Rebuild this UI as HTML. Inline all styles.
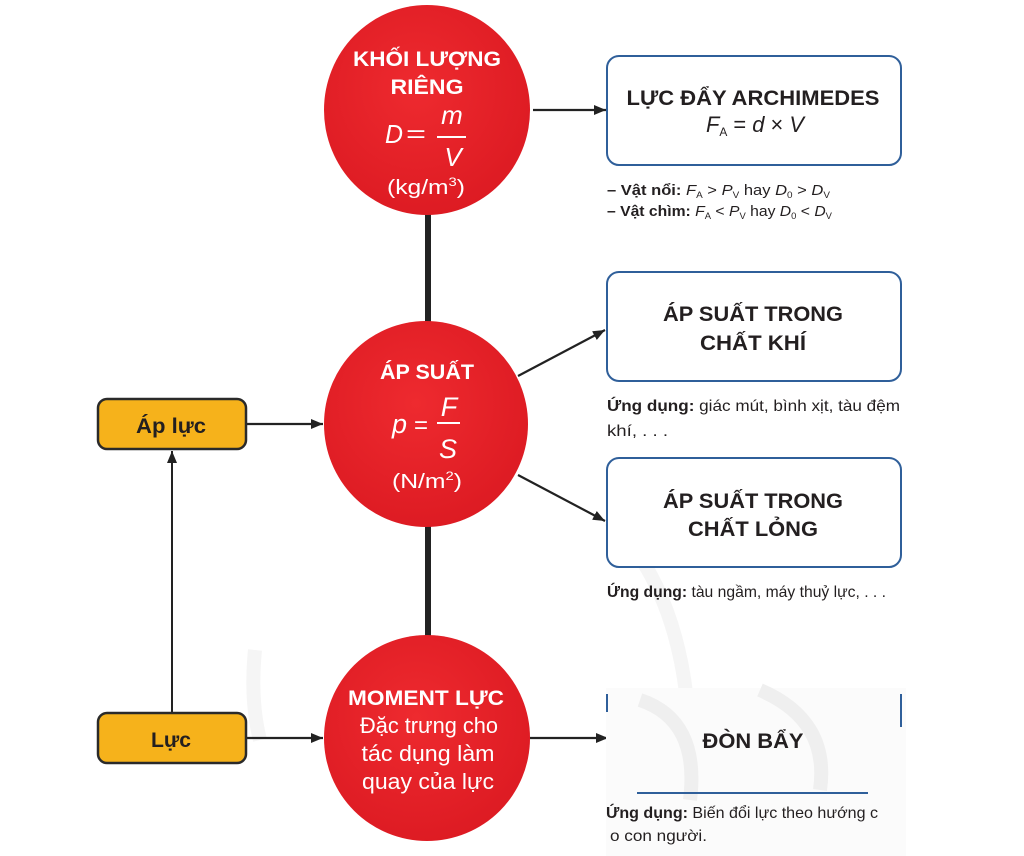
<!DOCTYPE html>
<html>
<head>
<meta charset="utf-8">
<style>
  html,body{margin:0;padding:0;background:#fff;}
  svg{display:block;}
  .c{font-family:"Liberation Sans Narrow","Liberation Sans",sans-serif;}
</style>
</head>
<body>
<svg width="1024" height="856" viewBox="0 0 1024 856" xmlns="http://www.w3.org/2000/svg" class="c">
  <defs>
    <marker id="ah" viewBox="0 0 12 10" refX="12" refY="5" markerWidth="12" markerHeight="10" markerUnits="userSpaceOnUse" orient="auto">
      <path d="M0,0 L12,5 L0,10 Z" fill="#222"/>
    </marker>
    <radialGradient id="rg" cx="45%" cy="40%" r="65%">
      <stop offset="0" stop-color="#ee2a2f"/>
      <stop offset="1" stop-color="#dc1a22"/>
    </radialGradient>
  </defs>

  <!-- faint watermark arcs -->
  <g fill="none" stroke="#f5f5f5" stroke-width="14">
    <path d="M610,520 Q690,600 690,760"/>
    <path d="M760,700 Q840,760 860,856"/>
    <path d="M255,650 Q250,700 260,740"/>
  </g>

  <!-- vertical thick connectors -->
  <rect x="425" y="210" width="6" height="115" fill="#222"/>
  <rect x="425" y="524" width="6" height="114" fill="#222"/>

  <!-- arrows -->
  <line x1="533" y1="110" x2="606" y2="110" stroke="#222" stroke-width="2.2" marker-end="url(#ah)"/>
  <line x1="518" y1="376" x2="605" y2="330" stroke="#222" stroke-width="2.2" marker-end="url(#ah)"/>
  <line x1="518" y1="475" x2="605" y2="521" stroke="#222" stroke-width="2.2" marker-end="url(#ah)"/>
  <line x1="247" y1="424" x2="323" y2="424" stroke="#222" stroke-width="2.2" marker-end="url(#ah)"/>
  <line x1="247" y1="738" x2="323" y2="738" stroke="#222" stroke-width="2.2" marker-end="url(#ah)"/>
  <line x1="530" y1="738" x2="608" y2="738" stroke="#222" stroke-width="2.2" marker-end="url(#ah)"/>
  <line x1="172" y1="712" x2="172" y2="451" stroke="#222" stroke-width="2" marker-end="url(#ah)"/>

  <!-- circles -->
  <ellipse cx="427" cy="110" rx="103" ry="105" fill="url(#rg)"/>
  <ellipse cx="426" cy="424" rx="102" ry="103" fill="url(#rg)"/>
  <ellipse cx="427" cy="738" rx="103" ry="103" fill="url(#rg)"/>

  <!-- circle 1 text -->
  <g fill="#fff">
    <text x="427" y="66" font-size="21" font-weight="bold" text-anchor="middle" textLength="148" lengthAdjust="spacingAndGlyphs">KHỐI LƯỢNG</text>
    <text x="427" y="94" font-size="21" font-weight="bold" text-anchor="middle" textLength="73" lengthAdjust="spacingAndGlyphs">RIÊNG</text>
    <text x="385" y="143" font-size="26" font-style="italic" textLength="18" lengthAdjust="spacingAndGlyphs">D</text>
    <text x="406" y="142" font-size="24" textLength="20" lengthAdjust="spacingAndGlyphs">=</text>
    <text x="452" y="124" font-size="26" font-style="italic" text-anchor="middle">m</text>
    <rect x="437" y="136" width="29" height="2" fill="#fff"/>
    <text x="453" y="166" font-size="26" font-style="italic" text-anchor="middle">V</text>
    <text x="426" y="194" font-size="20" text-anchor="middle" textLength="78" lengthAdjust="spacingAndGlyphs">(kg/m<tspan font-size="12" dy="-8">3</tspan><tspan dy="8">)</tspan></text>
  </g>

  <!-- circle 2 text -->
  <g fill="#fff">
    <text x="427" y="379" font-size="21" font-weight="bold" text-anchor="middle" textLength="94" lengthAdjust="spacingAndGlyphs">ÁP SUẤT</text>
    <text x="392" y="433" font-size="27" font-style="italic">p</text>
    <text x="414" y="433" font-size="24">=</text>
    <text x="449" y="416" font-size="27" font-style="italic" text-anchor="middle">F</text>
    <rect x="437" y="422" width="23" height="2" fill="#fff"/>
    <text x="448" y="458" font-size="27" font-style="italic" text-anchor="middle">S</text>
    <text x="427" y="488" font-size="20" text-anchor="middle" textLength="70" lengthAdjust="spacingAndGlyphs">(N/m<tspan font-size="12" dy="-8">2</tspan><tspan dy="8">)</tspan></text>
  </g>

  <!-- circle 3 text -->
  <g fill="#fff" text-anchor="middle">
    <text x="426" y="705" font-size="21" font-weight="bold" textLength="156" lengthAdjust="spacingAndGlyphs">MOMENT LỰC</text>
    <text x="429" y="733" font-size="22" textLength="138" lengthAdjust="spacingAndGlyphs">Đặc trưng cho</text>
    <text x="428" y="761" font-size="22" textLength="133" lengthAdjust="spacingAndGlyphs">tác dụng làm</text>
    <text x="428" y="789" font-size="22" textLength="132" lengthAdjust="spacingAndGlyphs">quay của lực</text>
  </g>

  <!-- yellow boxes -->
  <rect x="98" y="399" width="148" height="50" rx="9" fill="#f6b21b" stroke="#2a2a2a" stroke-width="2.5"/>
  <text x="171" y="433" font-size="21" font-weight="bold" fill="#231f20" text-anchor="middle" textLength="70" lengthAdjust="spacingAndGlyphs">Áp lực</text>
  <rect x="98" y="713" width="148" height="50" rx="9" fill="#f6b21b" stroke="#2a2a2a" stroke-width="2.5"/>
  <text x="171" y="747" font-size="21" font-weight="bold" fill="#231f20" text-anchor="middle" textLength="40" lengthAdjust="spacingAndGlyphs">Lực</text>

  <!-- box 1 -->
  <rect x="607" y="56" width="294" height="109" rx="12" fill="#fff" stroke="#2f5f9a" stroke-width="2"/>
  <text x="753" y="105" font-size="21" font-weight="bold" fill="#231f20" text-anchor="middle" textLength="253" lengthAdjust="spacingAndGlyphs">LỰC ĐẨY ARCHIMEDES</text>
  <text x="706" y="132" font-size="22" fill="#231f20" font-style="italic" textLength="98" lengthAdjust="spacingAndGlyphs">F<tspan font-size="12" dy="4" font-style="normal">A</tspan><tspan dy="-4" font-style="normal"> = </tspan>d<tspan font-style="normal"> × </tspan>V</text>

  <g fill="#231f20" font-size="15">
    <text x="607" y="195" textLength="223" lengthAdjust="spacingAndGlyphs"><tspan font-weight="bold">– Vật nổi: </tspan><tspan font-style="italic">F</tspan><tspan font-size="9" dy="3">A</tspan><tspan dy="-3"> &gt; </tspan><tspan font-style="italic">P</tspan><tspan font-size="9" dy="3">V</tspan><tspan dy="-3"> hay </tspan><tspan font-style="italic">D</tspan><tspan font-size="9" dy="3">0</tspan><tspan dy="-3"> &gt; </tspan><tspan font-style="italic">D</tspan><tspan font-size="9" dy="3">V</tspan></text>
    <text x="607" y="216" textLength="225" lengthAdjust="spacingAndGlyphs"><tspan font-weight="bold">– Vật chìm: </tspan><tspan font-style="italic">F</tspan><tspan font-size="9" dy="3">A</tspan><tspan dy="-3"> &lt; </tspan><tspan font-style="italic">P</tspan><tspan font-size="9" dy="3">V</tspan><tspan dy="-3"> hay </tspan><tspan font-style="italic">D</tspan><tspan font-size="9" dy="3">0</tspan><tspan dy="-3"> &lt; </tspan><tspan font-style="italic">D</tspan><tspan font-size="9" dy="3">V</tspan></text>
  </g>

  <!-- box 2 -->
  <rect x="607" y="272" width="294" height="109" rx="12" fill="#fff" stroke="#2f5f9a" stroke-width="2"/>
  <text x="753" y="321" font-size="21" font-weight="bold" fill="#231f20" text-anchor="middle" textLength="180" lengthAdjust="spacingAndGlyphs">ÁP SUẤT TRONG</text>
  <text x="753" y="350" font-size="21" font-weight="bold" fill="#231f20" text-anchor="middle" textLength="106" lengthAdjust="spacingAndGlyphs">CHẤT KHÍ</text>
  <text x="607" y="411" font-size="16" fill="#231f20" textLength="293" lengthAdjust="spacingAndGlyphs"><tspan font-weight="bold">Ứng dụng:</tspan> giác mút, bình xịt, tàu đệm</text>
  <text x="607" y="436" font-size="16" fill="#231f20" textLength="61" lengthAdjust="spacingAndGlyphs">khí, . . .</text>

  <!-- box 3 -->
  <rect x="607" y="458" width="294" height="109" rx="12" fill="#fff" stroke="#2f5f9a" stroke-width="2"/>
  <text x="753" y="508" font-size="21" font-weight="bold" fill="#231f20" text-anchor="middle" textLength="180" lengthAdjust="spacingAndGlyphs">ÁP SUẤT TRONG</text>
  <text x="753" y="536" font-size="21" font-weight="bold" fill="#231f20" text-anchor="middle" textLength="130" lengthAdjust="spacingAndGlyphs">CHẤT LỎNG</text>
  <text x="607" y="597" font-size="16" fill="#231f20" textLength="279" lengthAdjust="spacingAndGlyphs"><tspan font-weight="bold">Ứng dụng:</tspan> tàu ngầm, máy thuỷ lực, . . .</text>

  <!-- box 4 (ĐÒN BẨY, partially erased) -->
  <rect x="606" y="688" width="300" height="168" fill="#fbfbfb"/>
  <g fill="none" stroke="#efefef" stroke-width="14">
    <path d="M640,700 Q700,720 690,800"/>
    <path d="M760,690 Q830,720 820,790"/>
  </g>
  <line x1="607" y1="694" x2="607" y2="712" stroke="#2f5f9a" stroke-width="2"/>
  <line x1="901" y1="694" x2="901" y2="727" stroke="#2f5f9a" stroke-width="2"/>
  <line x1="637" y1="793" x2="868" y2="793" stroke="#2f5f9a" stroke-width="2"/>
  <text x="753" y="748" font-size="21" font-weight="bold" fill="#231f20" text-anchor="middle" textLength="101" lengthAdjust="spacingAndGlyphs">ĐÒN BẨY</text>
  <text x="606" y="818" font-size="16" fill="#231f20" textLength="272" lengthAdjust="spacingAndGlyphs"><tspan font-weight="bold">Ứng dụng:</tspan> Biến đổi lực theo hướng c</text>
  <text x="610" y="841" font-size="16" fill="#231f20" textLength="97" lengthAdjust="spacingAndGlyphs">o con người.</text>
</svg>
</body>
</html>
